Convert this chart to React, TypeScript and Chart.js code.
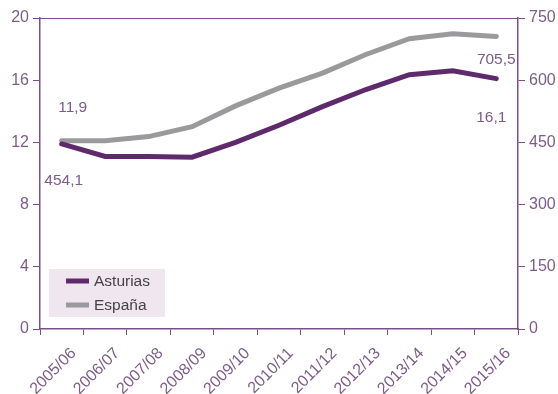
import React, { useEffect, useRef } from 'react';
import { Chart, registerables } from 'chart.js';

Chart.register(...registerables);

const categories = ['2005/06', '2006/07', '2007/08', '2008/09', '2009/10', '2010/11', '2011/12', '2012/13', '2013/14', '2014/15', '2015/16'];
const asturias = [11.9, 11.1, 11.1, 11.05, 12.0, 13.1, 14.3, 15.4, 16.35, 16.6, 16.1];
const espana = [454.1, 454, 464, 488, 538, 581, 617, 662, 700, 712, 705.5];
const leftMax = 20;
const leftStep = 4;
const rightMax = 750;
const rightStep = 150;

const PURPLE = '#5e2a6c';
const GREY = '#9a9a9c';
const AXIS = '#7a4f86';
const TEXT = '#7d5c88';
const FONT = '"Liberation Sans", Arial, sans-serif';

const fmt = (v: number) => String(v).replace('.', ',');

const decorPlugin = {
  id: 'decor',
  afterDatasetsDraw(chart: any) {
    const { ctx, chartArea, scales } = chart;
    const x = scales.x;
    const yL = scales.y;
    const yR = scales.y1;
    ctx.save();
    // top border
    ctx.strokeStyle = AXIS;
    ctx.lineWidth = 1;
    ctx.beginPath();
    ctx.moveTo(chartArea.left, chartArea.top + 0.5);
    ctx.lineTo(chartArea.right, chartArea.top + 0.5);
    ctx.stroke();

    // value labels
    ctx.fillStyle = TEXT;
    ctx.font = `15.5px ${FONT}`;
    ctx.textAlign = 'center';
    ctx.textBaseline = 'middle';
    const n = categories.length - 1;
    const ax0 = x.getPixelForValue(0);
    const axN = x.getPixelForValue(n);
    ctx.fillText(fmt(asturias[0]), ax0 + 11, yL.getPixelForValue(asturias[0]) - 36);
    ctx.fillText(fmt(espana[0]), ax0 + 2, yR.getPixelForValue(espana[0]) + 40);
    ctx.fillText(fmt(espana[n]), axN, yR.getPixelForValue(espana[n]) + 23);
    ctx.fillText(fmt(asturias[n]), axN - 5, yL.getPixelForValue(asturias[n]) + 39);

    // legend
    const lx = chartArea.left + 9;
    const ly = chartArea.bottom - 60;
    ctx.fillStyle = '#efe6ef';
    ctx.fillRect(lx, ly, 116, 48);
    ctx.textAlign = 'left';
    ctx.font = `15.5px ${FONT}`;
    chart.data.datasets.forEach((ds: any, i: number) => {
      const yy = ly + 12 + i * 24;
      ctx.strokeStyle = ds.borderColor;
      ctx.lineWidth = 5;
      ctx.beginPath();
      ctx.moveTo(lx + 17, yy);
      ctx.lineTo(lx + 40, yy);
      ctx.stroke();
      ctx.fillStyle = '#444444';
      ctx.fillText(ds.label, lx + 45, yy + 1);
    });
    ctx.restore();
  },
};

export default function App() {
  const ref = useRef<HTMLCanvasElement | null>(null);
  useEffect(() => {
    if (!ref.current) return;
    const chart = new Chart(ref.current, {
      type: 'line',
      data: {
        labels: categories,
        datasets: [
          { label: 'Asturias', data: asturias, borderColor: PURPLE, backgroundColor: PURPLE, borderWidth: 5, pointRadius: 0, tension: 0, yAxisID: 'y', borderCapStyle: 'round' },
          { label: 'España', data: espana, borderColor: GREY, backgroundColor: GREY, borderWidth: 5, pointRadius: 0, tension: 0, yAxisID: 'y1', borderCapStyle: 'round' },
        ],
      },
      options: {
        animation: false,
        responsive: false,
        devicePixelRatio: 1,
        layout: { padding: { top: 18, left: 0, right: 0, bottom: 0 } },
        plugins: { legend: { display: false }, tooltip: { enabled: false } },
        scales: {
          x: {
            offset: true,
            grid: { offset: true, drawOnChartArea: false, drawTicks: true, tickLength: 6, color: AXIS },
            border: { color: AXIS, width: 1.5 },
            ticks: { color: TEXT, font: { family: FONT, size: 16 }, minRotation: 45, maxRotation: 45, autoSkip: false, labelOffset: 12, padding: 9 },
            afterFit: (s: any) => { s.height = 65; },
          },
          y: {
            position: 'left',
            min: 0,
            max: leftMax,
            grid: { drawOnChartArea: false, drawTicks: true, tickLength: 7, color: AXIS },
            border: { color: AXIS, width: 1.5 },
            ticks: { stepSize: leftStep, color: TEXT, font: { family: FONT, size: 16 }, padding: 4 },
            afterFit: (s: any) => { s.width = 40; },
          },
          y1: {
            position: 'right',
            min: 0,
            max: rightMax,
            grid: { drawOnChartArea: false, drawTicks: true, tickLength: 7, color: AXIS },
            border: { color: AXIS, width: 1.5 },
            ticks: { stepSize: rightStep, color: TEXT, font: { family: FONT, size: 16 }, padding: 4 },
            afterFit: (s: any) => { s.width = 40; },
          },
        },
      },
      plugins: [decorPlugin],
    });
    return () => chart.destroy();
  }, []);
  return (
    <div style={{ position: 'fixed', left: 0, top: 0, width: 558, height: 394, background: '#ffffff' }}>
      <canvas ref={ref} width={558} height={394} style={{ width: 558, height: 394, display: 'block' }} />
    </div>
  );
}
